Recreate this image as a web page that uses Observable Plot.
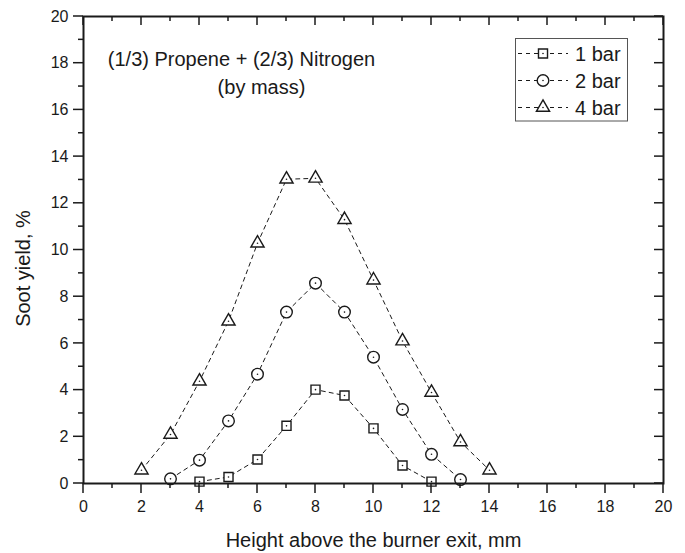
<!DOCTYPE html>
<html>
<head>
<meta charset="utf-8">
<script src="https://cdn.jsdelivr.net/npm/d3@7"></script>
<script src="https://cdn.jsdelivr.net/npm/@observablehq/plot@0.6"></script>
<style>
  body { margin: 0; background: #fff; }
</style>
</head>
<body>
<div id="chart"></div>
<script>
// Soot yield vs. height above the burner exit, for three pressures
const heights1 = [4, 5, 6, 7, 8, 9, 10, 11, 12];
const yield1   = [0.08, 0.28, 1.03, 2.47, 4.02, 3.77, 2.36, 0.77, 0.08];

const heights2 = [3, 4, 5, 6, 7, 8, 9, 10, 11, 12, 13];
const yield2   = [0.2, 1.0, 2.68, 4.68, 7.34, 8.58, 7.34, 5.41, 3.17, 1.25, 0.17];

const heights4 = [2, 3, 4, 5, 6, 7, 8, 9, 10, 11, 12, 13, 14];
const yield4   = [0.57, 2.1, 4.38, 6.95, 10.29, 13.03, 13.07, 11.3, 8.71, 6.1, 3.9, 1.78, 0.57];

const seriesNames   = ["1 bar", "2 bar", "4 bar"];
const seriesSymbols = ["square", "circle", "triangle"];
const seriesRadius  = [5.1, 5.8, 4.9];

const majorTicks = [0, 2, 4, 6, 8, 10, 12, 14, 16, 18, 20];
const minorTicks = [1, 3, 5, 7, 9, 11, 13, 15, 17, 19];

const titleLines = ["(1/3) Propene + (2/3) Nitrogen", "(by mass)"];
const xLabel = "Height above the burner exit, mm";
const yLabel = "Soot yield, %";

const ink = "#1a1a1a";
const font = '"Liberation Sans", Arial, sans-serif';

const W = 685, H = 553;
const mL = 83, mR = 22, mT = 16, mB = 70;

const series = seriesNames.map((name, k) => ({
  name,
  symbol: seriesSymbols[k],
  r: seriesRadius[k],
  data: [heights1, heights2, heights4][k].map((h, i) => ({h, v: [yield1, yield2, yield4][k][i]}))
}));

const marks = [];

// dashed connecting lines
for (const s of series) {
  marks.push(Plot.line(s.data, {x: "h", y: "v", stroke: ink, strokeWidth: 1, strokeDasharray: "4,4"}));
}
// hollow markers with a center dot
for (const s of series) {
  marks.push(Plot.dot(s.data, {x: "h", y: "v", symbol: () => s.symbol, r: s.r,
    fill: "white", stroke: ink, strokeWidth: 1.4}));
  marks.push(Plot.dot(s.data, {x: "h", y: "v", r: 0.8, fill: ink, stroke: null}));
}

// tick labels
marks.push(
  Plot.axisX(majorTicks, {anchor: "bottom", tickSize: 0, tickPadding: 17, fontSize: 16, color: ink, label: null}),
  Plot.axisY(majorTicks, {anchor: "left", tickSize: 0, tickPadding: 15, fontSize: 16, color: ink, label: null})
);

// axis titles and in-plot title (anchored on the top-center of the frame)
marks.push(
  Plot.text([xLabel], {frameAnchor: "bottom", dy: 57, fontSize: 20, fill: ink, lineAnchor: "middle"}),
  Plot.text([yLabel], {frameAnchor: "top", dx: -350, dy: 252, rotate: -90, fontSize: 20, fill: ink, lineAnchor: "middle"}),
  Plot.text([titleLines[0]], {frameAnchor: "top", dx: -132, dy: 43, fontSize: 20, fill: ink, lineAnchor: "middle"}),
  Plot.text([titleLines[1]], {frameAnchor: "top", dx: -112, dy: 71, fontSize: 20, fill: ink, lineAnchor: "middle"}),
  Plot.frame({stroke: ink, strokeWidth: 2})
);

const chart = Plot.plot({
  width: W,
  height: H,
  marginLeft: mL,
  marginRight: mR,
  marginTop: mT,
  marginBottom: mB,
  style: {fontFamily: font},
  x: {domain: [0, 20], axis: null},
  y: {domain: [0, 20], axis: null},
  marks
});

document.getElementById("chart").appendChild(chart);

const svg = d3.select(chart);
const sx = chart.scale("x"), sy = chart.scale("y");
const x0 = sx.apply(0), x1 = sx.apply(20), y0 = sy.apply(0), y1 = sy.apply(20);

// tick marks from the chart's scales: outward on bottom/left, inward on top/right
const ticks = svg.append("g").attr("stroke", ink).attr("stroke-width", 1.5);
const tickSets = [[majorTicks, 10, 9], [minorTicks, 5, 5]];
for (const [vals, outLen, inLen] of tickSets) {
  for (const v of vals) {
    const px = sx.apply(v), py = sy.apply(v);
    ticks.append("line").attr("x1", px).attr("x2", px).attr("y1", y0).attr("y2", y0 + outLen);
    ticks.append("line").attr("x1", px).attr("x2", px).attr("y1", y1).attr("y2", y1 + inLen);
    ticks.append("line").attr("y1", py).attr("y2", py).attr("x1", x0).attr("x2", x0 - outLen);
    ticks.append("line").attr("y1", py).attr("y2", py).attr("x1", x1).attr("x2", x1 - inLen);
  }
}

// legend box in the upper-right corner of the frame
const lg = svg.append("g").attr("class", "legend");
lg.append("rect")
  .attr("x", 515.5).attr("y", 38.5).attr("width", 112).attr("height", 82.5)
  .attr("fill", "white").attr("stroke", "#555").attr("stroke-width", 1);
const symbolTypes = {square: d3.symbolSquare, circle: d3.symbolCircle, triangle: d3.symbolTriangle};
series.forEach((s, i) => {
  const y = 53.5 + i * 27;
  const row = lg.append("g");
  row.append("line").attr("x1", 518).attr("x2", 568).attr("y1", y).attr("y2", y)
    .attr("stroke", ink).attr("stroke-width", 1).attr("stroke-dasharray", "4,4");
  row.append("path")
    .attr("transform", `translate(543,${y})`)
    .attr("d", d3.symbol(symbolTypes[s.symbol], Math.PI * s.r * s.r)())
    .attr("fill", "white").attr("stroke", ink).attr("stroke-width", 1.4);
  row.append("circle").attr("cx", 543).attr("cy", y).attr("r", 0.8).attr("fill", ink);
  row.append("text").attr("x", 575).attr("y", y).attr("dy", "0.35em")
    .attr("text-anchor", "start").attr("font-family", font)
    .attr("font-size", 20).attr("fill", ink).text(s.name);
});
</script>
</body>
</html>
